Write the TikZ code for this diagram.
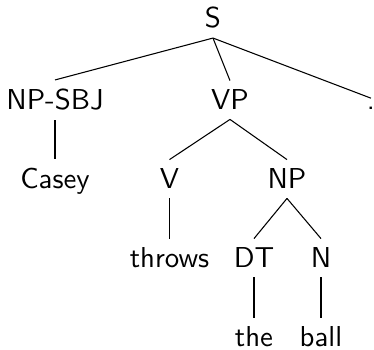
\documentclass[tikz,border=0pt]{standalone}
\begin{document}
\begin{tikzpicture}[x=0.375pt,y=-0.375pt,
  lbl/.style={anchor=base,font=\sffamily\fontsize{10.8}{13}\selectfont},
  edge/.style={draw=black,line width=0.4pt}]
\useasboundingbox (0,0) rectangle (374,350);
% nodes, placed by baseline
\node[lbl] (S) at (213,28) {S};
\node[lbl] (npsbj) at (55,110) {NP-SBJ};
\node[lbl] (vp) at (230,110) {VP};
\node[lbl] (dot) at (371,110) {.};
\node[lbl] (casey) at (55,189) {Casey};
\node[lbl] (v) at (169.5,189) {V};
\node[lbl] (np) at (287,189) {NP};
\node[lbl] (throws) at (169.5,268) {throws};
\node[lbl] (dt) at (254,268) {DT};
\node[lbl] (n) at (321,268) {N};
\node[lbl] (the) at (254,347) {the};
\node[lbl] (ball) at (321,347) {ball};
% branches
\draw[edge] (S.south) -- (npsbj.north);
\draw[edge] (S.south) -- (vp.north);
\draw[edge] (S.south) -- (dot.north);
\draw[edge] (npsbj.south) -- (casey.north);
\draw[edge] (vp.south) -- (v.north);
\draw[edge] (vp.south) -- (np.north);
\draw[edge] (v.south) -- (throws.north);
\draw[edge] (np.south) -- (dt.north);
\draw[edge] (np.south) -- (n.north);
\draw[edge] (dt.south) -- (the.north);
\draw[edge] (n.south) -- (ball.north);
\end{tikzpicture}
\end{document}
